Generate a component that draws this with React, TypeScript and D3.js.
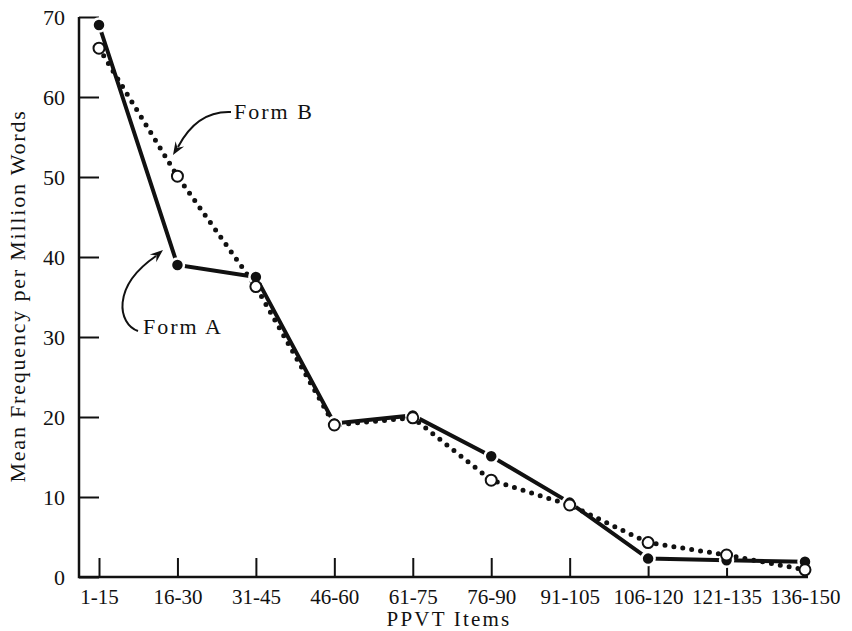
import { useEffect, useRef } from "react";
import * as d3 from "d3";

const categories = ["1-15", "16-30", "31-45", "46-60", "61-75", "76-90", "91-105", "106-120", "121-135", "136-150"];
const formA = [69, 39, 37.5, 19.2, 20.2, 15.1, 9.3, 2.3, 2.1, 1.9];
const formB = [66.1, 50.1, 36.3, 19.0, 19.9, 12.1, 9.0, 4.3, 2.75, 0.9];
const yTicks = [0, 10, 20, 30, 40, 50, 60, 70];

const fontFace = "'Liberation Serif', 'Times New Roman', serif";

// arrowhead at the end of a curve, pointing along (from -> tip)
function arrowHead(tip: [number, number], from: [number, number]) {
  const ang = Math.atan2(tip[1] - from[1], tip[0] - from[0]);
  const len = 13;
  const wing = 5;
  const bx = tip[0] - len * Math.cos(ang);
  const by = tip[1] - len * Math.sin(ang);
  const nx = -Math.sin(ang);
  const ny = Math.cos(ang);
  const notchX = tip[0] - len * 0.65 * Math.cos(ang);
  const notchY = tip[1] - len * 0.65 * Math.sin(ang);
  return `M${tip[0]},${tip[1]} L${bx + nx * wing},${by + ny * wing} L${notchX},${notchY} L${bx - nx * wing},${by - ny * wing} Z`;
}

const App: React.FC = () => {
  const svgRef = useRef<SVGSVGElement | null>(null);

  useEffect(() => {
    const svg = d3.select(svgRef.current);
    svg.selectAll("*").remove();

    const x = d3.scalePoint<string>().domain(categories).range([99, 805]);
    const y = d3.scaleLinear().domain([0, 70]).range([577, 17]);

    // y axis ticks (inward)
    const yAxis = svg.append("g")
      .attr("transform", "translate(79,0)")
      .call(d3.axisLeft(y).tickValues(yTicks).tickSize(-20).tickPadding(14).tickFormat(d3.format("d")));
    yAxis.select(".domain").remove();
    yAxis.selectAll("line").attr("stroke", "#111").attr("stroke-width", 2);
    yAxis.selectAll("text")
      .attr("fill", "#111")
      .style("font", `22px ${fontFace}`);

    // x axis ticks (upward)
    const xAxis = svg.append("g")
      .attr("transform", "translate(0,577)")
      .call(d3.axisBottom(x).tickSize(-19).tickPadding(12));
    xAxis.select(".domain").remove();
    xAxis.selectAll("line").attr("stroke", "#111").attr("stroke-width", 2);
    xAxis.selectAll("text")
      .attr("fill", "#111")
      .style("font", `21px ${fontFace}`);

    // axis lines
    svg.append("path")
      .attr("d", "M79,17 L79,577 L808,577")
      .attr("fill", "none")
      .attr("stroke", "#111")
      .attr("stroke-width", 2.5);

    // axis titles
    svg.append("text")
      .attr("transform", "translate(25,296) rotate(-90)")
      .attr("text-anchor", "middle")
      .attr("fill", "#111")
      .style("font", `22px ${fontFace}`)
      .style("letter-spacing", "1.8px")
      .text("Mean Frequency per Million Words");

    svg.append("text")
      .attr("x", 449)
      .attr("y", 626)
      .attr("text-anchor", "middle")
      .attr("fill", "#111")
      .style("font", `21px ${fontFace}`)
      .style("letter-spacing", "2.2px")
      .text("PPVT Items");

    const line = d3.line<number>()
      .x((_, i) => x(categories[i]) as number)
      .y(d => y(d));

    // Form B dotted
    svg.append("path")
      .attr("d", line(formB))
      .attr("fill", "none")
      .attr("stroke", "#111")
      .attr("stroke-width", 5)
      .attr("stroke-linecap", "round")
      .attr("stroke-dasharray", "0 9");

    // Form A solid
    svg.append("path")
      .attr("d", line(formA))
      .attr("fill", "none")
      .attr("stroke", "#111")
      .attr("stroke-width", 4);

    svg.append("g")
      .selectAll("circle")
      .data(formA)
      .enter()
      .append("circle")
      .attr("cx", (_, i) => x(categories[i]) as number)
      .attr("cy", d => y(d))
      .attr("r", 6.5)
      .attr("fill", "#111")
      .attr("stroke", "#fff")
      .attr("stroke-width", 2.5);

    svg.append("g")
      .selectAll("circle")
      .data(formB)
      .enter()
      .append("circle")
      .attr("cx", (_, i) => x(categories[i]) as number)
      .attr("cy", d => y(d))
      .attr("r", 5.5)
      .attr("fill", "#fff")
      .attr("stroke", "#111")
      .attr("stroke-width", 2);

    // annotations
    svg.append("path")
      .attr("d", "M231,112 C208,111 190,124 178,147")
      .attr("fill", "none")
      .attr("stroke", "#111")
      .attr("stroke-width", 2);
    svg.append("path")
      .attr("d", arrowHead([173, 155], [181, 142]))
      .attr("fill", "#111");
    svg.append("text")
      .attr("x", 234)
      .attr("y", 119)
      .attr("fill", "#111")
      .style("font", `22px ${fontFace}`)
      .style("letter-spacing", "2px")
      .text("Form B");

    svg.append("path")
      .attr("d", "M138,331 C118,324 111,287 156,256")
      .attr("fill", "none")
      .attr("stroke", "#111")
      .attr("stroke-width", 2);
    svg.append("path")
      .attr("d", arrowHead([163, 250], [151, 260]))
      .attr("fill", "#111");
    svg.append("text")
      .attr("x", 143)
      .attr("y", 334)
      .attr("fill", "#111")
      .style("font", `22px ${fontFace}`)
      .style("letter-spacing", "2px")
      .text("Form A");
  }, []);

  return (
    <svg
      ref={svgRef}
      width={852}
      height={631}
      style={{ position: "absolute", left: 0, top: 0, background: "#fff" }}
    ></svg>
  );
};

export default App;
